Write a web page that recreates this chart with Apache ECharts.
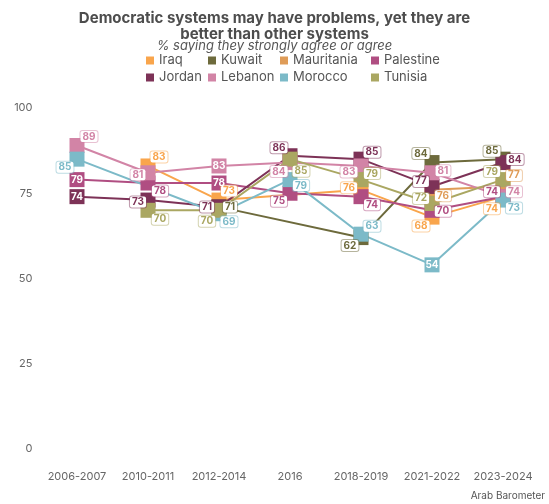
<!DOCTYPE html>
<html>
<head>
<meta charset="utf-8">
<script src="https://cdn.jsdelivr.net/npm/echarts@6/dist/echarts.min.js"></script>
<style>
  html, body { margin: 0; padding: 0; background: #fff; }
  #chart { width: 549px; height: 504px; }
</style>
</head>
<body>
<div id="chart"></div>
<script>
// Survey waves
const years = ['2006-2007', '2010-2011', '2012-2014', '2016', '2018-2019', '2021-2022', '2023-2024'];

// % saying they strongly agree or agree (null = not surveyed that wave)
const iraq       = [null, 83, 73, null, 76, 68, 74];
const kuwait     = [null, null, 71, null, 62, 84, 85];
const mauritania = [null, null, null, null, null, 76, 77];
const palestine  = [79, 78, 78, 75, 74, 70, 74];
const jordan     = [74, 73, 71, 86, 85, 77, 84];
const lebanon    = [89, 81, 83, 84, 83, 81, 74];
const morocco    = [85, null, 69, 79, 63, 54, 73];
const tunisia    = [null, 70, 70, 85, 79, 72, 79];

const yTicks = [0, 25, 50, 75, 100];

// Series styling
const seriesDefs = [
  { name: 'Iraq',       values: iraq,       color: '#F9A54C' },
  { name: 'Kuwait',     values: kuwait,     color: '#6D6A3C' },
  { name: 'Mauritania', values: mauritania, color: '#DF9C58' },
  { name: 'Palestine',  values: palestine,  color: '#B04E82' },
  { name: 'Jordan',     values: jordan,     color: '#7D3257' },
  { name: 'Lebanon',    values: lebanon,    color: '#D284A6' },
  { name: 'Morocco',    values: morocco,    color: '#7CBAC8' },
  { name: 'Tunisia',    values: tunisia,    color: '#AAA762' }
];

// Value-label placement: [dx, dy] offset from the marker, or 'in' for a label drawn on the marker
const labelPlacement = {
  Iraq:       [null, [11, -9], [10, -9], null, [-12, -2], [-11, 9], [-11, 12]],
  Kuwait:     [null, null, [11, 0], null, [-11, 8], [-11, -9], [-11, -8]],
  Mauritania: [null, null, null, null, null, [11, 6], [11, -11]],
  Palestine:  ['in', [12, 8], 'in', [-11, 8], [11, 8], [11, 1], [-11, -5]],
  Jordan:     ['in', [-10, 2], [-12, 0], [-11, -8], [11, -7], [-11, -5], [12, -3]],
  Lebanon:    [[12, -9], [-10, 2], 'in', [-11, 9], [-12, 6], [11, -2], [11, -5]],
  Morocco:    [[-12, 8], null, [10, 8], [11, 6], [11, -8], 'in', [11, 8]],
  Tunisia:    [null, [12, 9], [-12, 11], [11, 12], [11, -6], [-11, -5], [-11, -8]]
};

const FONT = 'Inter, "Noto Sans", sans-serif';

function tint(hex, a) {
  const n = parseInt(hex.slice(1), 16);
  return 'rgba(' + ((n >> 16) & 255) + ',' + ((n >> 8) & 255) + ',' + (n & 255) + ',' + a + ')';
}

function buildSeries(def) {
  const place = labelPlacement[def.name];
  const data = def.values.map(function (v, i) {
    if (v === null) return null;
    const p = place[i];
    let label;
    if (p === 'in') {
      label = { show: true, position: 'inside', offset: [0, 0], color: '#fff',
                backgroundColor: 'transparent', borderWidth: 0 };
    } else {
      label = { show: true, position: 'inside', offset: p || [11, 0] };
    }
    return { value: v, label: label };
  });
  return {
    name: def.name,
    type: 'line',
    data: data,
    connectNulls: true,
    symbol: 'rect',
    symbolSize: 15,
    color: def.color,
    lineStyle: { width: 2, color: def.color },
    itemStyle: { color: def.color },
    emphasis: { disabled: true },
    label: {
      show: true,
      formatter: '{c}',
      fontFamily: FONT,
      fontSize: 10,
      fontWeight: 'bold',
      lineHeight: 10,
      color: def.color,
      backgroundColor: '#fff',
      borderColor: tint(def.color, 0.5),
      borderWidth: 1,
      borderRadius: 2,
      padding: [1, 2, 0, 2]
    }
  };
}

const legendText = { fontFamily: FONT, fontSize: 13, color: '#555', lineHeight: 15 };
function legendCol(names, left) {
  return {
    orient: 'vertical', left: left, top: 48,
    data: names, icon: 'rect', itemWidth: 8, itemHeight: 8, itemGap: 2,
    textStyle: legendText, selectedMode: false
  };
}

const chart = echarts.init(document.getElementById('chart'), null, { renderer: 'canvas' });
chart.setOption({
  animation: false,
  backgroundColor: '#fff',
  title: [
    {
      text: 'Democratic systems may have problems, yet they are\nbetter than other systems',
      left: 'center', top: 5,
      textStyle: { fontFamily: FONT, fontSize: 15, fontWeight: 'bold', color: '#4d4d4d', lineHeight: 16 }
    },
    {
      text: '% saying they strongly agree or agree',
      left: 'center', top: 34,
      textStyle: { fontFamily: FONT, fontSize: 13, fontStyle: 'italic', fontWeight: 'normal', color: '#555', lineHeight: 14 }
    }
  ],
  legend: [
    legendCol(['Iraq', 'Jordan'], 141),
    legendCol(['Kuwait', 'Lebanon'], 203),
    legendCol(['Mauritania', 'Morocco'], 275),
    legendCol(['Palestine', 'Tunisia'], 366)
  ],
  grid: { left: 41.5, right: 10.5, top: 108, bottom: 55, containLabel: false },
  xAxis: {
    type: 'category',
    data: years,
    boundaryGap: true,
    axisLine: { show: false },
    axisTick: { show: false },
    splitLine: { show: false },
    axisLabel: { fontFamily: FONT, fontSize: 11, color: '#666', margin: 22, interval: 0 }
  },
  yAxis: {
    type: 'value',
    min: yTicks[0],
    max: yTicks[yTicks.length - 1],
    interval: yTicks[1] - yTicks[0],
    axisLine: { show: false },
    axisTick: { show: false },
    splitLine: { show: false },
    axisLabel: { fontFamily: FONT, fontSize: 11, color: '#666', margin: 9 }
  },
  series: seriesDefs.map(buildSeries),
  graphic: [
    {
      type: 'text', right: 4, bottom: 3,
      style: { text: 'Arab Barometer', fontFamily: FONT, fontSize: 10, fill: '#555' }
    }
  ]
});
</script>
</body>
</html>
